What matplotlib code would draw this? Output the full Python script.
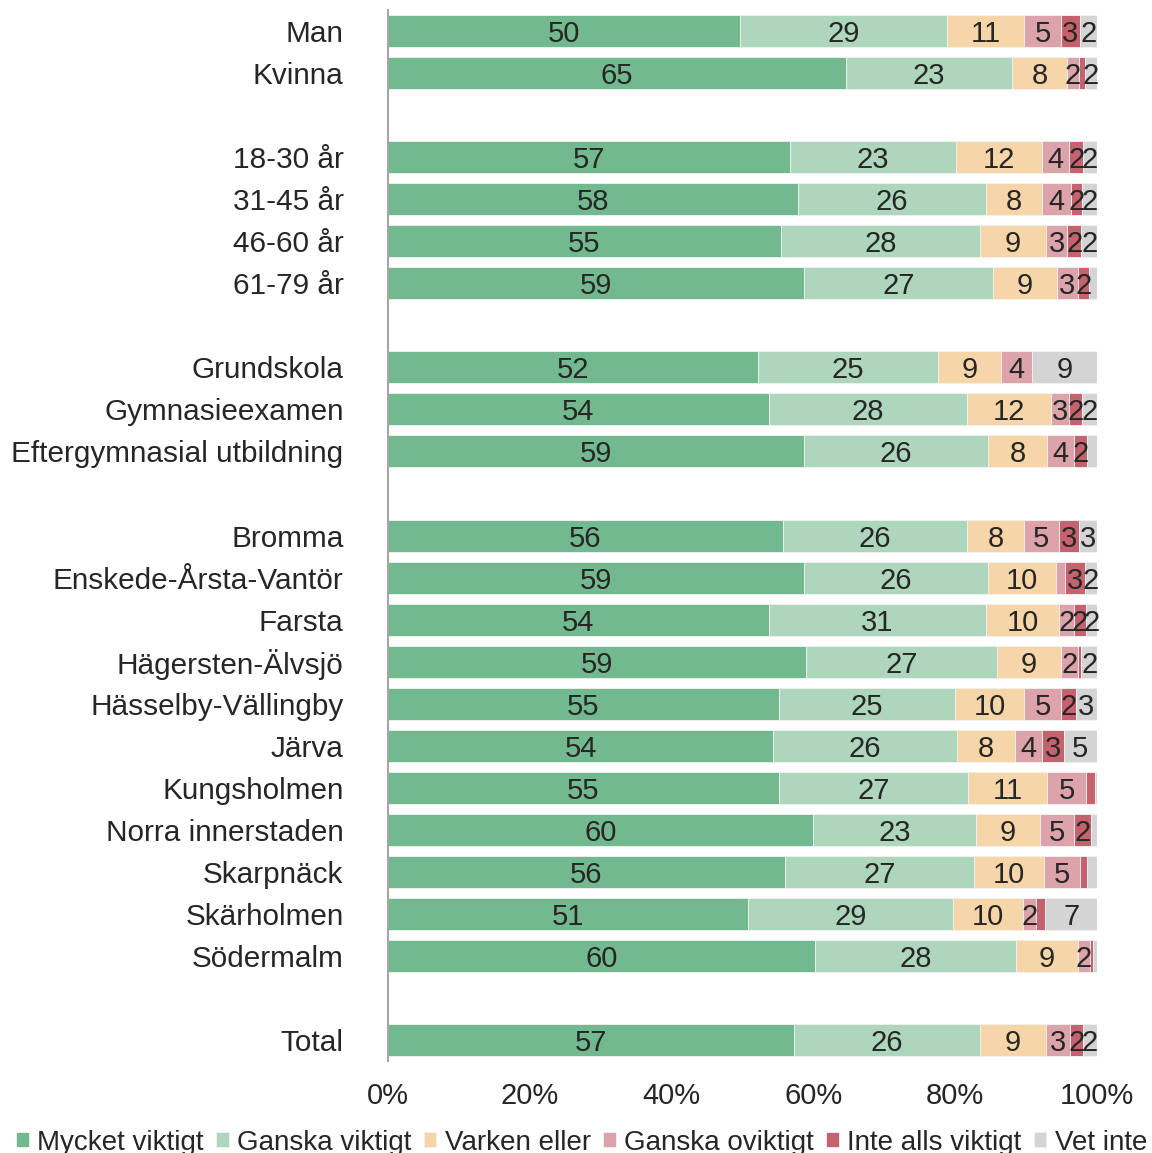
# Stacked 100% bar chart: how important, by group

import matplotlib.pyplot as plt

plt.rcParams['font.family'] = ['Liberation Sans', 'DejaVu Sans']

# Row labels (None = blank spacer row)
groups = ['Man', 'Kvinna', None,
          '18-30 år', '31-45 år', '46-60 år', '61-79 år', None,
          'Grundskola', 'Gymnasieexamen', 'Eftergymnasial utbildning', None,
          'Bromma', 'Enskede-Årsta-Vantör', 'Farsta', 'Hägersten-Älvsjö',
          'Hässelby-Vällingby', 'Järva', 'Kungsholmen', 'Norra innerstaden',
          'Skarpnäck', 'Skärholmen', 'Södermalm', None,
          'Total']

series_names = ['Mycket viktigt', 'Ganska viktigt', 'Varken eller',
                'Ganska oviktigt', 'Inte alls viktigt', 'Vet inte']

# Percent per row (spacer rows skipped), one list per answer
mycket = [49.6, 64.6, 56.7, 57.8, 55.4, 58.7, 52.2, 53.7, 58.7,
          55.7, 58.6, 53.7, 59.0, 55.1, 54.3, 55.1, 59.9, 56.0, 50.8, 60.2, 57.3]
ganska = [29.2, 23.4, 23.4, 26.5, 28.1, 26.6, 25.4, 28.0, 25.9,
          26.0, 26.0, 30.6, 26.9, 24.9, 26.0, 26.7, 23.0, 26.7, 28.9, 28.4, 26.2]
varken = [10.9, 7.8, 12.2, 7.9, 9.3, 9.0, 8.8, 11.8, 8.4,
          8.0, 9.6, 10.4, 9.0, 9.7, 8.1, 11.2, 9.1, 9.8, 9.8, 8.7, 9.3]
oviktigt = [5.2, 1.6, 3.8, 4.1, 3.0, 3.0, 4.4, 2.6, 3.8,
            4.9, 1.3, 2.1, 2.4, 5.2, 3.8, 5.4, 4.8, 5.1, 1.9, 1.7, 3.4]
inte_alls = [2.7, 0.9, 1.9, 1.6, 2.0, 1.6, 0.0, 1.8, 1.8,
             2.8, 2.8, 1.6, 0.5, 2.1, 3.1, 1.3, 2.4, 1.0, 1.3, 0.4, 1.8]
vet_inte = [2.4, 1.7, 2.0, 2.1, 2.2, 1.1, 9.2, 2.1, 1.4,
            2.6, 1.7, 1.6, 2.2, 3.0, 4.7, 0.3, 0.8, 1.4, 7.3, 0.6, 2.0]

colors = ['#73B98F', '#AED6BC', '#F6D6A9', '#DCA3AA', '#C4626D', '#D4D4D4']
all_series = [mycket, ganska, varken, oviktigt, inte_alls, vet_inte]

# y positions for the real rows
ypos = [i for i, g in enumerate(groups) if g is not None]
labels = [g for g in groups if g is not None]

fig = plt.figure(figsize=(11.52, 11.53), dpi=100)
ax = fig.add_axes([0.3368, 0.0795, 0.6155, 0.912])

left = [0.0] * len(ypos)
for name, vals, col in zip(series_names, all_series, colors):
    ax.barh(ypos, vals, left=left, height=0.76, color=col,
            edgecolor='#F2F2F2', linewidth=0.6, label=name)
    for y, l, v in zip(ypos, left, vals):
        if round(v) >= 2:
            ax.text(l + v / 2, y, str(round(v)), ha='center', va='center_baseline',
                    fontsize=21, color='#262626')
    left = [a + b for a, b in zip(left, vals)]

ax.set_xlim(0, 100)
ax.set_ylim(len(groups) - 0.5, -0.5)
ax.set_yticks(ypos)
ax.set_yticklabels(labels, fontsize=21.4, color='#262626')
ax.set_xticks(range(0, 101, 20))
ax.set_xticklabels([f'{t}%' for t in range(0, 101, 20)], fontsize=21, color='#262626')
ax.tick_params(axis='both', length=0)
ax.tick_params(axis='y', pad=32)
ax.tick_params(axis='x', pad=15)

for s in ['top', 'right', 'bottom']:
    ax.spines[s].set_visible(False)
ax.spines['left'].set_color('#A6A6A6')
ax.spines['left'].set_linewidth(1.5)

handles, names = ax.get_legend_handles_labels()
fig.legend(handles, names, loc='center', bbox_to_anchor=(0.505, 0.009), ncol=6,
           frameon=False, fontsize=20, handlelength=0.45, handleheight=0.45,
           handletextpad=0.3, columnspacing=0.45, labelcolor='#262626')

fig.savefig('out.png', dpi=100)
